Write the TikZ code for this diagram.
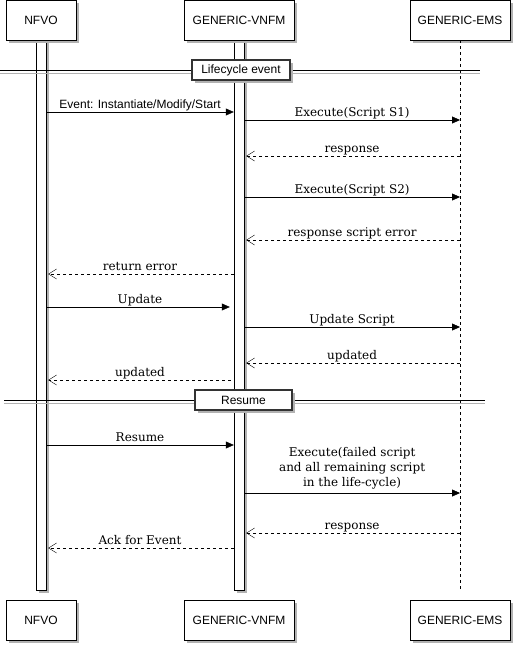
\documentclass[tikz,border=0pt]{standalone}
\usepackage{fontspec}
\setmainfont{DejaVu Serif}
\newfontfamily\lsans{Liberation Sans}
\usetikzlibrary{arrows.meta,shadows}

\begin{document}
\begin{tikzpicture}[x=1pt, y=-1pt,
  sh/.style={drop shadow={shadow xshift=3pt, shadow yshift=-3pt, fill=black!30, opacity=1}},
  p/.style={rectangle, draw, fill=white, minimum height=40pt, inner sep=0pt, font=\lsans\fontsize{12}{14}\selectfont, sh},
  act/.style={rectangle, draw, fill=white, minimum width=10pt, minimum height=550pt, inner sep=0pt, sh},
  sep/.style={rectangle, draw=black!80, line width=1.5pt, fill=white, minimum height=20pt, inner sep=0pt, font=\lsans\fontsize{12}{14}\selectfont, sh},
  m/.style={draw, -{Triangle[length=8pt,width=7pt]}},
  r/.style={draw, dash pattern=on 3pt off 3pt, -{Straight Barb[length=8pt,width=10pt]}, shorten >=2pt},
  l/.style={anchor=base, yshift=4pt, inner sep=0pt, font=\fontsize{12}{15}\selectfont}]
  \useasboundingbox (0,0) rectangle (514,645);

  % lifelines
  \node[act] (nfvo_bar) at (41,315) {};
  \node[act] (vnfm_bar) at (239,315) {};
  \coordinate (ems_end) at (460,590);

  % participants
  \node[p, minimum width=70pt] (nfvo) at (41,20) {NFVO};
  \node[p, minimum width=110pt] (vnfm) at (239,20) {GENERIC-VNFM};
  \node[p, minimum width=100pt] (ems) at (460,20) {GENERIC-EMS};
  \node[p, minimum width=70pt] (nfvo_b) at (41,620) {NFVO};
  \node[p, minimum width=110pt] (vnfm_b) at (239,620) {GENERIC-VNFM};
  \node[p, minimum width=100pt] (ems_b) at (460,620) {GENERIC-EMS};
  \draw[dash pattern=on 3pt off 3pt] (ems) -- (ems_end);

  % lifecycle event
  \coordinate (lc_l) at (0,70.5);
  \coordinate (lc_r) at (480,70.5);
  \draw[black!30, transform canvas={yshift=-2.5pt}] (lc_l) -- (lc_r);
  \draw (lc_l) -- (lc_r);
  \node[sep, minimum width=98pt] (lc) at (241,70) {Lifecycle event};

  \draw[m] (nfvo_bar.east |- 0,112) -- node[l, font=\lsans\fontsize{12}{14}\selectfont] {Event: Instantiate/Modify/Start} (vnfm_bar.west |- 0,112);
  \draw[m] (vnfm_bar.east |- 0,120) -- node[l] {Execute(Script S1)} (ems.south |- 0,120);
  \draw[r] (ems.south |- 0,156) -- node[l] {response} (vnfm_bar.east |- 0,156);
  \draw[m] (vnfm_bar.east |- 0,197) -- node[l] {Execute(Script S2)} (ems.south |- 0,197);
  \draw[r] (ems.south |- 0,240) -- node[l] {response script error} (vnfm_bar.east |- 0,240);
  \draw[r] (vnfm_bar.west |- 0,274) -- node[l] {return error} (nfvo_bar.east |- 0,274);
  \draw[m, shorten >=4pt] (nfvo_bar.east |- 0,307) -- node[l] {Update} (vnfm_bar.west |- 0,307);
  \draw[m] (vnfm_bar.east |- 0,327) -- node[l] {Update Script} (ems.south |- 0,327);
  \draw[r] (ems.south |- 0,363) -- node[l] {updated} (vnfm_bar.east |- 0,363);
  \draw[r, shorten <=3pt] (vnfm_bar.west |- 0,380) -- node[l] {updated} (nfvo_bar.east |- 0,380);

  % resume
  \coordinate (rs_l) at (4,400.5);
  \coordinate (rs_r) at (485,400.5);
  \draw[black!30, transform canvas={yshift=-2.5pt}] (rs_l) -- (rs_r);
  \draw (rs_l) -- (rs_r);
  \node[sep, minimum width=97pt] (rs) at (243.5,400) {Resume};

  \draw[m] (nfvo_bar.east |- 0,445) -- node[l] {Resume} (vnfm_bar.west |- 0,445);
  \draw[m] (vnfm_bar.east |- 0,493) -- node[above=4pt, inner sep=0pt, align=center, font=\fontsize{12}{15}\selectfont] {Execute(failed script\\and all remaining script\\in the life-cycle)} (ems.south |- 0,493);
  \draw[r] (ems.south |- 0,533) -- node[l] {response} (vnfm_bar.east |- 0,533);
  \draw[r] (vnfm_bar.west |- 0,548) -- node[l] {Ack for Event} (nfvo_bar.east |- 0,548);
\end{tikzpicture}
\end{document}
